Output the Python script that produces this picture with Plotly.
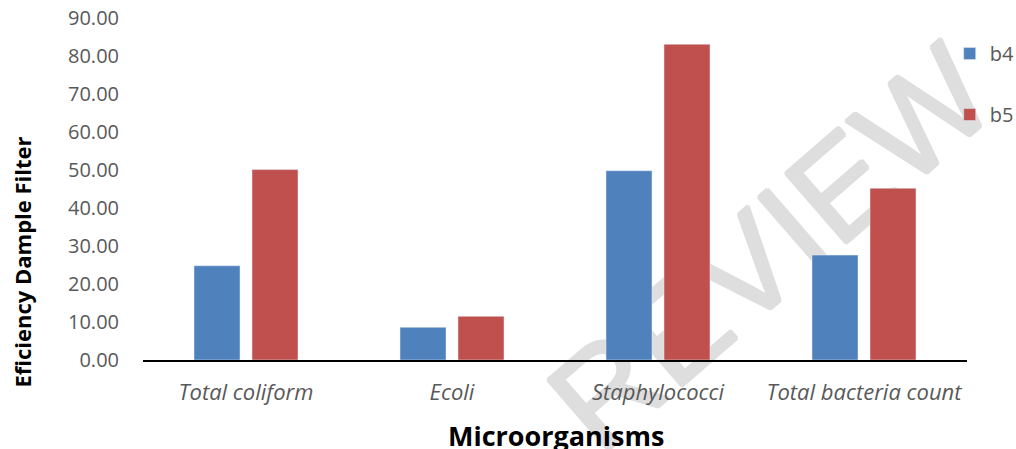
import plotly.graph_objects as go

categories = ["Total coliform", "Ecoli", "Staphylococci", "Total bacteria count"]
b4_values = [24.8, 8.6, 49.8, 27.6]
b5_values = [50.1, 11.5, 83.1, 45.2]
series_names = ["b4", "b5"]
y_ticks = [0, 10, 20, 30, 40, 50, 60, 70, 80, 90]
y_tick_labels = ["%.2f" % v for v in y_ticks]

BLUE = "#4F81BD"
RED = "#C0504D"
FONT = "Open Sans"
WM = "#dedede"

fig = go.Figure()
fig.add_trace(go.Bar(x=categories, y=b4_values, name=series_names[0],
                     marker=dict(color=BLUE), legendgroup="g1"))
fig.add_trace(go.Bar(x=categories, y=b5_values, name=series_names[1],
                     marker=dict(color=RED), legendgroup="g2"))

wm_font = dict(family="Liberation Sans", size=135, color=WM)
shape = dict(type="rect", xref="paper", yref="paper",
             x0=0.6912, x1=0.8112, y0=0.302, y1=0.412,
             line=dict(width=0), fillcolor="rgba(0,0,0,0)", layer="below",
             label=dict(text="REVIEW", textangle=-41, textposition="middle center",
                        font=wm_font))

fig.update_layout(
    width=1016, height=449,
    margin=dict(l=143, r=49, t=18, b=89, autoexpand=False),
    paper_bgcolor="white", plot_bgcolor="white",
    barmode="group", bargap=0.437, bargroupgap=0.207,
    font=dict(family=FONT, color="#595959", size=20),
    showlegend=True,
    legend=dict(x=0.979, xanchor="left", y=0.953, yanchor="top",
                bgcolor="rgba(0,0,0,0)", font=dict(size=20, color="#595959"),
                tracegroupgap=32, itemwidth=30),
    xaxis=dict(showline=True, linecolor="black", linewidth=1.5,
               showgrid=False, ticks="", ticklabelstandoff=12, automargin=False,
               ticklabeloverflow="allow",
               tickfont=dict(family=FONT, size=22, color="#595959", style="italic")),
    yaxis=dict(range=[0, 90], tickvals=y_ticks, ticktext=y_tick_labels,
               showgrid=False, showline=False, zeroline=False, ticks="",
               ticklabelstandoff=23, automargin=False, ticklabeloverflow="allow",
               tickfont=dict(family=FONT, size=20, color="#595959")),
    annotations=[
        dict(text="<b>Eficiency Dample Filter</b>", xref="paper", yref="paper",
             x=-0.148, y=0.285, xanchor="center", yanchor="middle", textangle=-90,
             showarrow=False, font=dict(family=FONT, size=22, color="black")),
        dict(text="<b>Microorganisms</b>", xref="paper", yref="paper",
             x=0.501, y=-0.222, xanchor="center", yanchor="middle",
             showarrow=False, font=dict(family=FONT, size=27, color="black")),
    ],
)

shadow = ("1.5px 0 0 %s, -1.5px 0 0 %s, 0 1.5px 0 %s, 0 -1.5px 0 %s" % (WM, WM, WM, WM))
try:
    shape_thick = dict(shape)
    shape_thick["label"] = dict(shape["label"], font=dict(wm_font, shadow=shadow))
    fig.add_shape(**shape_thick)
except Exception:
    fig.add_shape(**shape)

fig.write_html("out.html", config={"displayModeBar": False},
               post_script="document.body.style.margin='0px';")
